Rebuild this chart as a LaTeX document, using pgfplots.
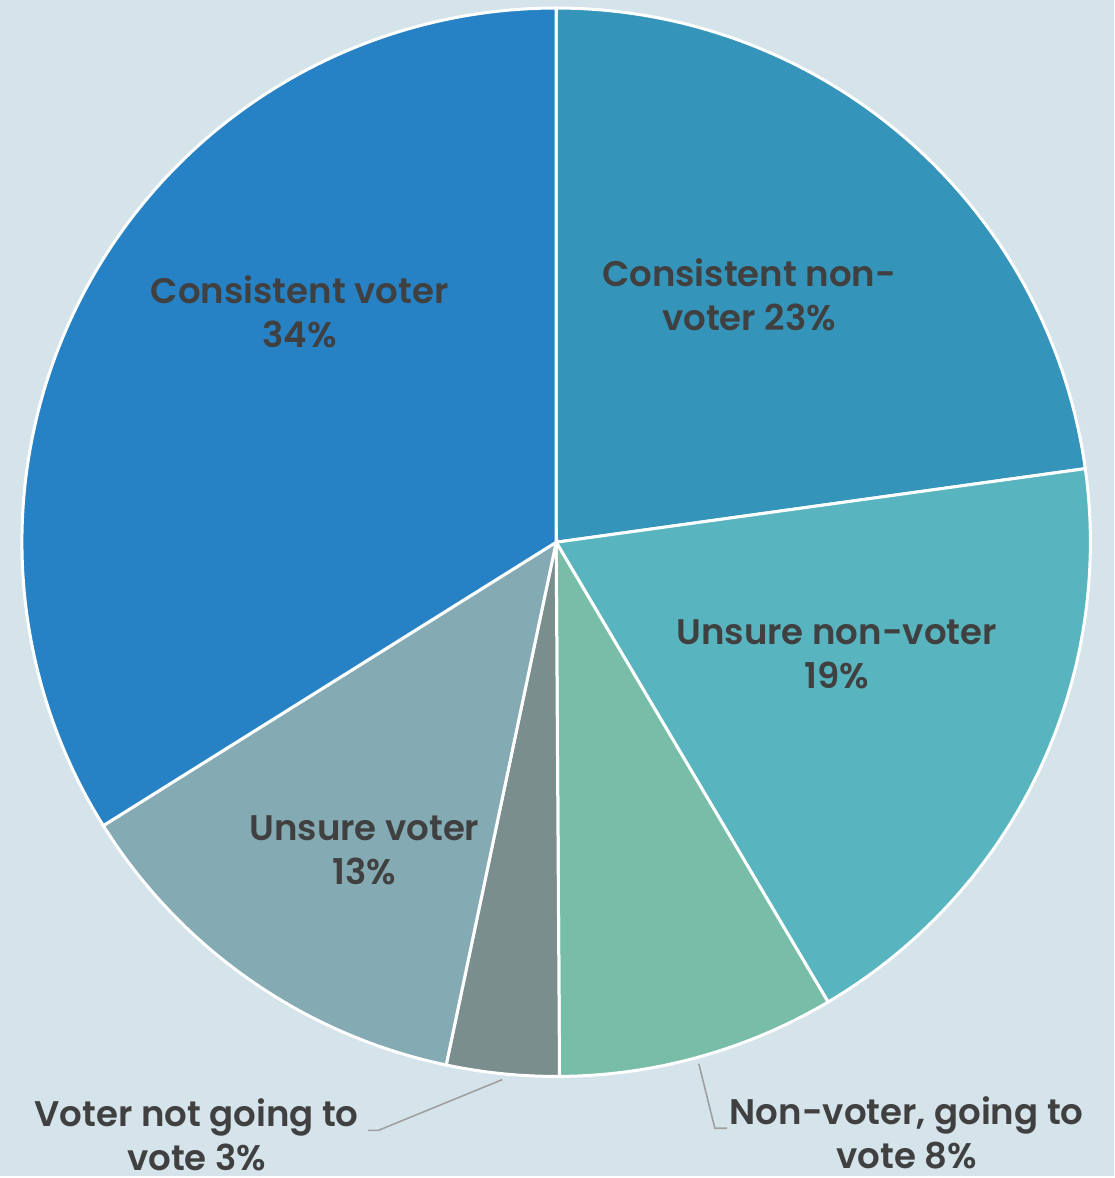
\documentclass[border=0pt]{standalone}
\usepackage{pgfplots}
\pgfplotsset{compat=1.18}
\usepackage{fontspec}
\setmainfont{Poppins}[BoldFont={Poppins SemiBold}]
\definecolor{bgc}{HTML}{D5E3EA}
\definecolor{cA}{HTML}{3594BA}
\definecolor{cB}{HTML}{58B5BF}
\definecolor{cC}{HTML}{77BDA8}
\definecolor{cD}{HTML}{7A8E8E}
\definecolor{cE}{HTML}{84AAB3}
\definecolor{cF}{HTML}{2782C5}
\definecolor{txt}{HTML}{404040}
\definecolor{lead}{HTML}{A0A0A0}
\tikzset{lbl/.style={font=\bfseries\fontsize{17.8}{22}\selectfont, text=txt, align=center}}
\begin{document}
\begin{tikzpicture}
\fill[bgc] (0,0) rectangle (558pt,589pt);
\begin{axis}[at={(0,0)},anchor=south west,
  scale only axis, width=558pt, height=589pt,
  xmin=-1.041, xmax=1.045, ymin=-1.187, ymax=1.015,
  axis lines=none, clip=false]
% shares (percent): 22.8, 18.7, 8.4, 3.4, 12.8, 33.9 ; angles = 90 - 3.6*cumulative
\addplot[fill=cA, draw=white, line width=1.5pt, domain=90:7.92, samples=80] ({cos(x)},{sin(x)}) -- (axis cs:0,0) -- cycle;
\addplot[fill=cB, draw=white, line width=1.5pt, domain=7.92:-59.4, samples=70] ({cos(x)},{sin(x)}) -- (axis cs:0,0) -- cycle;
\addplot[fill=cC, draw=white, line width=1.5pt, domain=-59.4:-89.64, samples=40] ({cos(x)},{sin(x)}) -- (axis cs:0,0) -- cycle;
\addplot[fill=cD, draw=white, line width=1.5pt, domain=-89.64:-101.88, samples=20] ({cos(x)},{sin(x)}) -- (axis cs:0,0) -- cycle;
\addplot[fill=cE, draw=white, line width=1.5pt, domain=-101.88:-147.96, samples=50] ({cos(x)},{sin(x)}) -- (axis cs:0,0) -- cycle;
\addplot[fill=cF, draw=white, line width=1.5pt, domain=-147.96:-270, samples=120] ({cos(x)},{sin(x)}) -- (axis cs:0,0) -- cycle;
% leader lines
\addplot[lead, line width=0.8pt] coordinates {(-0.352,-1.101) (-0.333,-1.101) (-0.101,-1.006)};
\addplot[lead, line width=0.8pt] coordinates {(0.267,-0.976) (0.297,-1.097) (0.320,-1.097)};
\node[lbl] at (axis cs:-0.480,0.432) {Consistent voter\\34\%};
\node[lbl] at (axis cs:0.361,0.464) {Consistent non-\\voter 23\%};
\node[lbl] at (axis cs:0.525,-0.209) {Unsure non-voter\\19\%};
\node[lbl] at (axis cs:-0.359,-0.576) {Unsure voter\\13\%};
\node[lbl] at (axis cs:-0.673,-1.110) {Voter not going to\\vote 3\%};
\node[lbl] at (axis cs:0.656,-1.106) {Non-voter, going to\\vote 8\%};
\end{axis}
\end{tikzpicture}
\end{document}
